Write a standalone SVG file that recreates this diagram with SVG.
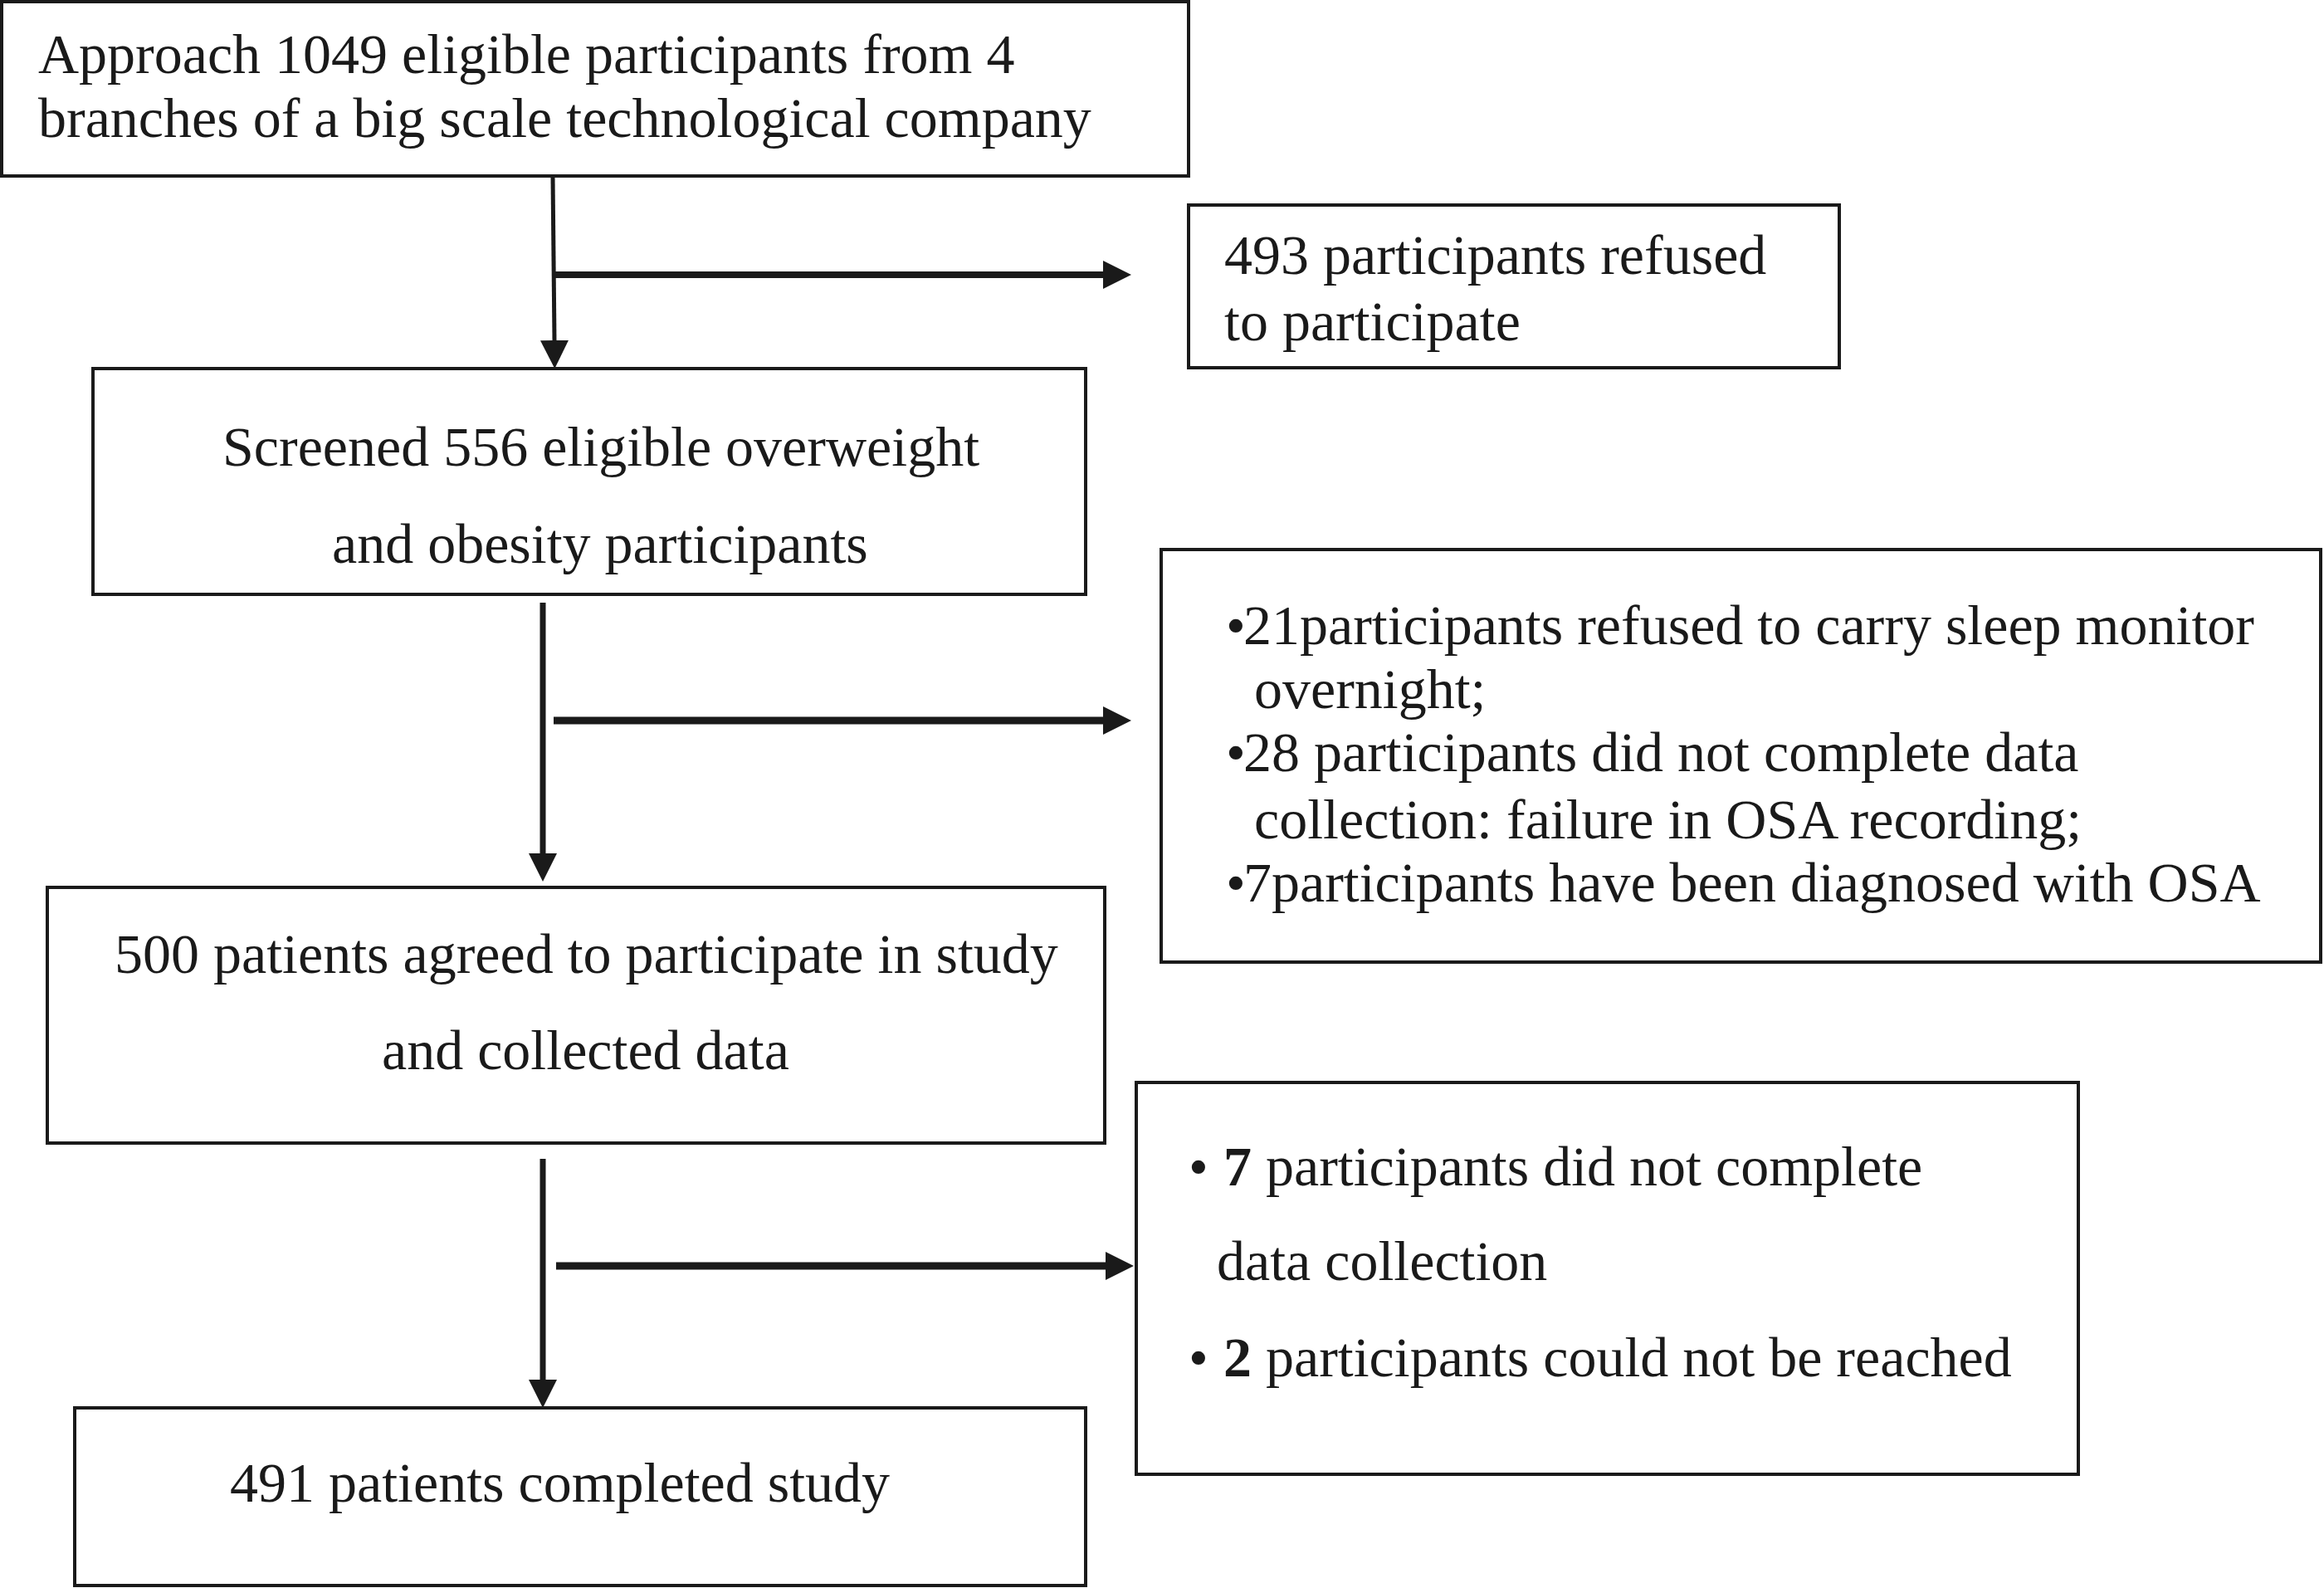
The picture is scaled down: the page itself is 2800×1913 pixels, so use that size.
<svg xmlns="http://www.w3.org/2000/svg" width="2800" height="1913" viewBox="0 0 2800 1913">
<style>
.box{fill:#ffffff;stroke:#1a1a1a;stroke-width:4}
.t{font-family:"Liberation Serif","Times New Roman",serif;font-size:68px;fill:#1a1a1a}
.b{font-weight:bold}
.c{stroke:#1a1a1a;fill:none}
</style>
<defs>
<marker id="ah" markerUnits="userSpaceOnUse" viewBox="0 0 34 34" markerWidth="34" markerHeight="34" refX="0" refY="17" orient="auto">
<path d="M0,0 L34,17 L0,34 z" fill="#1a1a1a"/>
</marker>
</defs>
<rect width="2800" height="1913" fill="#ffffff"/>
<g id="connectors">
<line class="c" x1="666" y1="212" x2="668" y2="410" stroke-width="5" marker-end="url(#ah)"/>
<line class="c" x1="666" y1="331" x2="1329" y2="331" stroke-width="8" marker-end="url(#ah)"/>
<line class="c" x1="654" y1="726" x2="654" y2="1028" stroke-width="7" marker-end="url(#ah)"/>
<line class="c" x1="667" y1="868" x2="1329" y2="868" stroke-width="9" marker-end="url(#ah)"/>
<line class="c" x1="654" y1="1396" x2="654" y2="1662" stroke-width="7" marker-end="url(#ah)"/>
<line class="c" x1="670" y1="1525" x2="1332" y2="1525" stroke-width="9" marker-end="url(#ah)"/>
</g>
<g id="approach">
<rect class="box" x="2" y="2" width="1430" height="210"/>
<text class="t" x="46" y="88">Approach 1049 eligible participants from 4</text>
<text class="t" x="46" y="165">branches of a big scale technological company</text>
</g>
<g id="refused">
<rect class="box" x="1432" y="247" width="784" height="196"/>
<text class="t" x="1475" y="330">493 participants refused</text>
<text class="t" x="1475" y="410">to participate</text>
</g>
<g id="screened">
<rect class="box" x="112" y="444" width="1196" height="272"/>
<text class="t" x="268" y="561">Screened 556 eligible overweight</text>
<text class="t" x="400" y="678">and obesity participants</text>
</g>
<g id="excluded1">
<rect class="box" x="1399" y="662" width="1397" height="497"/>
<text class="t" y="776"><tspan x="1477">•</tspan><tspan x="1498">21participants refused to carry sleep monitor</tspan></text>
<text class="t" x="1511" y="853">overnight;</text>
<text class="t" y="929"><tspan x="1477">•</tspan><tspan x="1498">28 participants did not complete data</tspan></text>
<text class="t" x="1511" y="1010">collection: failure in OSA recording;</text>
<text class="t" y="1086"><tspan x="1477">•</tspan><tspan x="1498">7participants have been diagnosed with OSA</tspan></text>
</g>
<g id="agreed">
<rect class="box" x="57" y="1069" width="1274" height="308"/>
<text class="t" x="138" y="1172">500 patients agreed to participate in study</text>
<text class="t" x="460" y="1288">and collected data</text>
</g>
<g id="excluded2">
<rect class="box" x="1369" y="1304" width="1135" height="472"/>
<text class="t" y="1428"><tspan x="1432">•</tspan><tspan x="1474" class="b">7</tspan><tspan> participants did not complete</tspan></text>
<text class="t" x="1466" y="1542">data collection</text>
<text class="t" y="1658"><tspan x="1432">•</tspan><tspan x="1474" class="b">2</tspan><tspan> participants could not be reached</tspan></text>
</g>
<g id="completed">
<rect class="box" x="90" y="1696" width="1218" height="214"/>
<text class="t" x="277" y="1809">491 patients completed study</text>
</g>
</svg>
